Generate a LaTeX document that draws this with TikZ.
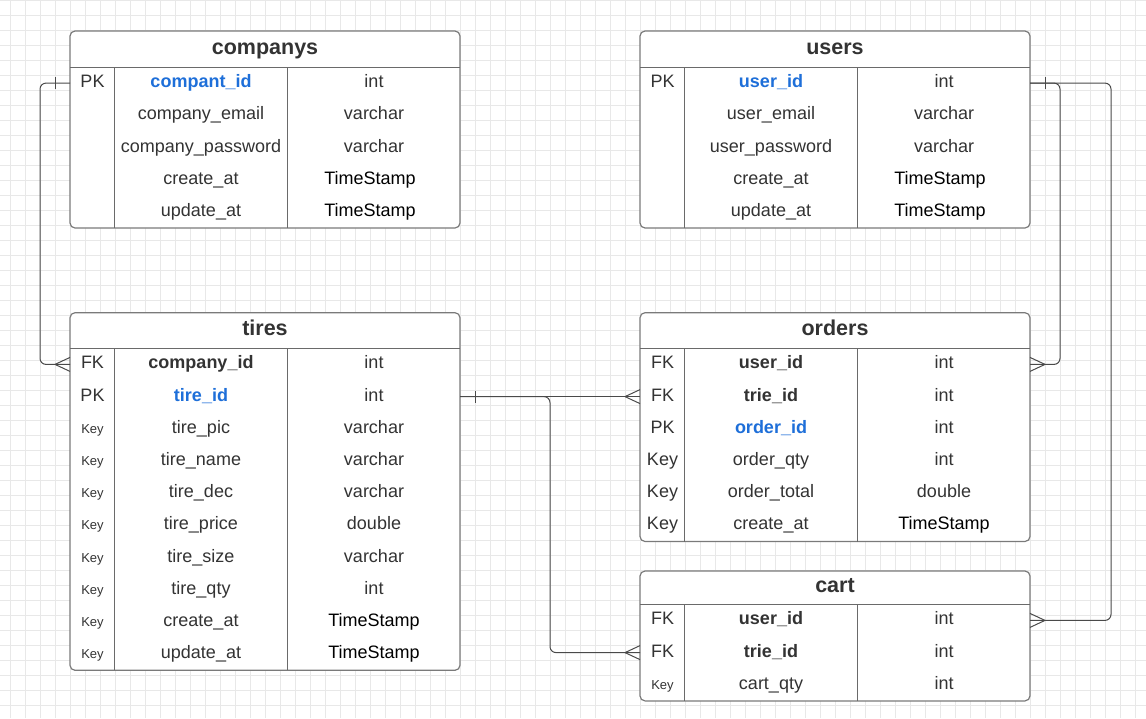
\documentclass[tikz,border=0pt]{standalone}
\usepackage{fontspec}
\setmainfont{Liberation Sans}
\definecolor{gridc}{HTML}{E8E8E8}
\definecolor{framec}{HTML}{7A7A7A}
\definecolor{divc}{HTML}{6A6A6A}
\definecolor{connc}{HTML}{4A4A4A}
\definecolor{txtc}{HTML}{333333}
\definecolor{pkblue}{HTML}{1E6FD9}
\tikzset{
  gridline/.style={draw=gridc, line width=0.7pt},
  tframe/.style={draw=framec, fill=white, line width=1.2pt, rounded corners=5pt},
  divline/.style={draw=divc, line width=1pt},
  conn/.style={draw=connc, line width=1pt},
  ertxt/.style={anchor=base, inner sep=0pt, text=txtc, font=\fontsize{18}{20}\selectfont},
  kf/.style={ertxt},
  ks/.style={ertxt, font=\fontsize{13}{15}\selectfont},
  nf/.style={ertxt},
  nb/.style={ertxt, font=\fontsize{18}{20}\selectfont\bfseries},
  np/.style={ertxt, font=\fontsize{18}{20}\selectfont\bfseries, text=pkblue},
  tf/.style={ertxt},
  tb/.style={ertxt, text=black},
  tbl/.style={ertxt, text=black, xshift=-4pt},
  titletext/.style={ertxt, font=\fontsize{21.5}{24}\selectfont\bfseries},
}
% #1 id, #2 left, #3 top, #4 header height, #5 title, #6 rows
\newcommand\ertable[6]{%
  \foreach \erks/\erkt/\erns/\ernt/\erts/\ertv [count=\i] in {#6} {\xdef\ercount{\i}}%
  \pgfmathsetmacro\erbot{#3+#4+32.2*\ercount}%
  \draw[tframe] (#2,#3) rectangle (#2+390,\erbot);
  \draw[divline] (#2,#3+#4) -- (#2+390,#3+#4);
  \draw[divline] (#2+44.7,#3+#4) -- (#2+44.7,\erbot);
  \draw[divline] (#2+217.7,#3+#4) -- (#2+217.7,\erbot);
  \node[titletext] (#1-title) at (#2+195,#3+#4/2+5) {#5};
  \foreach \erks/\erkt/\erns/\ernt/\erts/\ertv [count=\i] in {#6} {
    \pgfmathsetmacro\ery{#3+#4+32.2*(\i-0.5)}
    \node[\erks] (#1-k\i) at (#2+22.5,\ery+4.5) {\erkt};
    \node[\erns] (#1-n\i) at (#2+131,\ery+4.5) {\ernt};
    \node[\erts] (#1-t\i) at (#2+304,\ery+4.5) {\ertv};
    \coordinate (#1-\i-w) at (#2,\ery);
    \coordinate (#1-\i-e) at (#2+390,\ery);
  }
}
\newcommand\crowW[1]{\draw[conn] ([xshift=-15pt]#1) -- ([yshift=7pt]#1) ([xshift=-15pt]#1) -- ([yshift=-7pt]#1);}
\newcommand\crowE[1]{\draw[conn] ([xshift=15pt]#1) -- ([yshift=7pt]#1) ([xshift=15pt]#1) -- ([yshift=-7pt]#1);}
\newcommand\tickW[1]{\draw[conn] ([xshift=-15pt,yshift=6pt]#1) -- ([xshift=-15pt,yshift=-6pt]#1);}
\newcommand\tickE[1]{\draw[conn] ([xshift=15pt,yshift=6pt]#1) -- ([xshift=15pt,yshift=-6pt]#1);}
\begin{document}
\begin{tikzpicture}[x=1pt,y=-1pt]
\useasboundingbox (0,0) rectangle (1146,718);
\fill[white] (0,0) rectangle (1146,718);
\foreach \gx in {10.5,25.5,...,1146} {\draw[gridline] (\gx,0) -- (\gx,718);}
\foreach \gy in {0,15,...,718} {\draw[gridline] (0,\gy) -- (1146,\gy);}

\ertable{companys}{70}{31}{36}{companys}{
  kf/PK/np/compant\_id/tf/int,
  kf//nf/company\_email/tf/varchar,
  kf//nf/company\_password/tf/varchar,
  kf//nf/create\_at/tbl/TimeStamp,
  kf//nf/update\_at/tbl/TimeStamp}

\ertable{users}{640}{31}{36}{users}{
  kf/PK/np/user\_id/tf/int,
  kf//nf/user\_email/tf/varchar,
  kf//nf/user\_password/tf/varchar,
  kf//nf/create\_at/tbl/TimeStamp,
  kf//nf/update\_at/tbl/TimeStamp}

\ertable{tires}{70}{312.7}{35.6}{tires}{
  kf/FK/nb/company\_id/tf/int,
  kf/PK/np/tire\_id/tf/int,
  ks/Key/nf/tire\_pic/tf/varchar,
  ks/Key/nf/tire\_name/tf/varchar,
  ks/Key/nf/tire\_dec/tf/varchar,
  ks/Key/nf/tire\_price/tf/double,
  ks/Key/nf/tire\_size/tf/varchar,
  ks/Key/nf/tire\_qty/tf/int,
  ks/Key/nf/create\_at/tb/TimeStamp,
  ks/Key/nf/update\_at/tb/TimeStamp}

\ertable{orders}{640}{312.7}{35.6}{orders}{
  kf/FK/nb/user\_id/tf/int,
  kf/FK/nb/trie\_id/tf/int,
  kf/PK/np/order\_id/tf/int,
  kf/Key/nf/order\_qty/tf/int,
  kf/Key/nf/order\_total/tf/double,
  kf/Key/nf/create\_at/tb/TimeStamp}

\ertable{cart}{640}{571}{33.3}{cart}{
  kf/FK/nb/user\_id/tf/int,
  kf/FK/nb/trie\_id/tf/int,
  ks/Key/nf/cart\_qty/tf/int}

% companys -> tires
\draw[conn, rounded corners=6pt] (companys-1-w) -- ++(-30,0) |- (tires-1-w);
\tickW{companys-1-w}
\crowW{tires-1-w}
% users -> orders, users -> cart
\draw[conn, rounded corners=6pt] (users-1-e) -- ++(30,0) |- (orders-1-e);
\draw[conn, rounded corners=6pt] (users-1-e) -- ++(81,0) |- (cart-1-e);
\tickE{users-1-e}
\crowE{orders-1-e}
\crowE{cart-1-e}
% tires -> orders, tires -> cart
\draw[conn] (tires-2-e) -- (orders-2-w);
\draw[conn, rounded corners=6pt] (tires-2-e) -- ++(90,0) |- (cart-2-w);
\tickE{tires-2-e}
\crowW{orders-2-w}
\crowW{cart-2-w}
\end{tikzpicture}
\end{document}
